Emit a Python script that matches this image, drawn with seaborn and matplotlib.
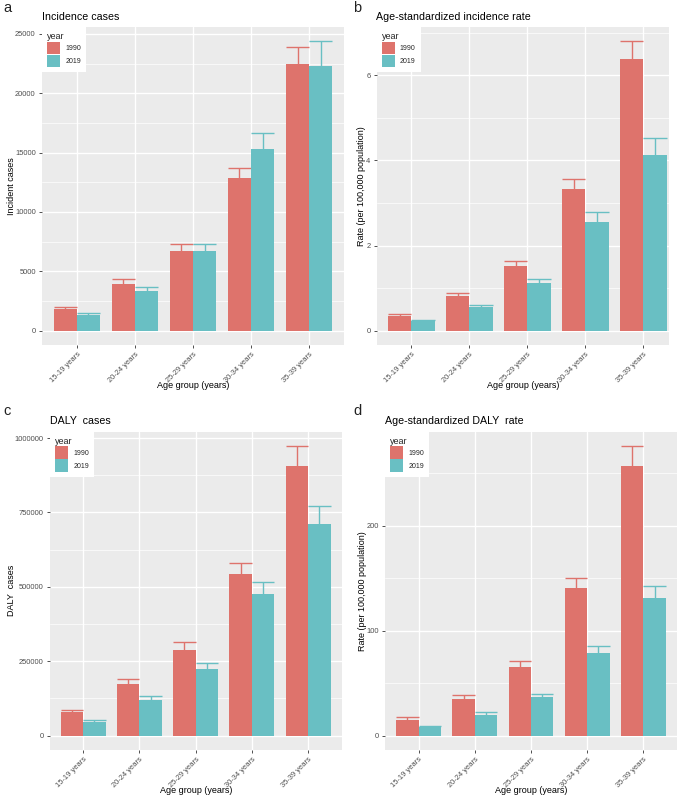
import numpy as np
import pandas as pd
import matplotlib
matplotlib.use("Agg")
import matplotlib.pyplot as plt
import seaborn as sns
from matplotlib.patches import Patch
from matplotlib.ticker import MultipleLocator, FixedLocator

ages = ["15-19 years", "20-24 years", "25-29 years", "30-34 years", "35-39 years"]
years = ["1990", "2019"]

inc_1990 = [1855, 3930, 6745, 12815, 22425]
inc_1990_up = [2020, 4320, 7275, 13660, 23910]
inc_2019 = [1315, 3310, 6710, 15285, 22280]
inc_2019_up = [1480, 3680, 7335, 16690, 24365]

asir_1990 = [0.35, 0.815, 1.53, 3.325, 6.376]
asir_1990_up = [0.40, 0.885, 1.647, 3.553, 6.80]
asir_2019 = [0.235, 0.55, 1.11, 2.55, 4.13]
asir_2019_up = [0.25, 0.61, 1.215, 2.78, 4.525]

daly_1990 = [78500, 171700, 288200, 542000, 907700]
daly_1990_up = [87500, 188500, 313100, 579100, 973000]
daly_2019 = [45800, 118900, 223200, 474700, 710400]
daly_2019_up = [53900, 131300, 243400, 515200, 771000]

asdr_1990 = [14.6, 34.7, 64.9, 140.4, 257.5]
asdr_1990_up = [17.2, 38.2, 70.7, 150.2, 276.0]
asdr_2019 = [8.6, 19.4, 36.6, 78.6, 131.1]
asdr_2019_up = [9.2, 22.0, 39.7, 85.6, 142.9]

COLORS = ["#DE736C", "#69BFC3"]

sns.set_theme(style="white")
plt.rcParams["font.family"] = ["Liberation Sans", "DejaVu Sans"]

W, H = 679, 797
fig = plt.figure(figsize=(W / 100, H / 100), dpi=100)


def fx(x):
    return x / W


def fy(y):
    return 1 - y / H


def panel(rect, xlim, letter, letter_xy, title, title_xy, ylabel, ylabel_x,
          xlabel_y, v90, u90, v19, u19, ystep, yticks):
    l, t, r, b = rect
    ax = fig.add_axes([fx(l), fy(b), (r - l) / W, (b - t) / H])
    df = pd.DataFrame({
        "age": ages * 2,
        "year": [years[0]] * len(ages) + [years[1]] * len(ages),
        "value": list(v90) + list(v19),
    })
    ups = {("1990", i): u for i, u in enumerate(u90)}
    ups.update({("2019", i): u for i, u in enumerate(u19)})
    ax.set_facecolor("#EBEBEB")
    sns.barplot(data=df, x="age", y="value", hue="year", order=ages,
                hue_order=years, palette=COLORS, width=0.8, errorbar=None,
                saturation=1, linewidth=0, legend=False, ax=ax, zorder=3)
    for p in ax.patches:
        cx = p.get_x() + p.get_width() / 2
        i = int(round(cx))
        yr = "1990" if cx < i else "2019"
        up = ups[(yr, i)]
        col = p.get_facecolor()
        ax.vlines(cx, p.get_height(), up, color=col, lw=1.0, zorder=2)
        ax.hlines(up, p.get_x(), p.get_x() + p.get_width(), color=col,
                  lw=1.0, zorder=2)
    M = max(max(u90), max(u19))
    ax.set_ylim(-0.05 * M, 1.05 * M)
    ax.set_xlim(*xlim)
    ax.yaxis.set_major_locator(FixedLocator(yticks))
    ax.yaxis.set_minor_locator(MultipleLocator(ystep / 2))
    ax.grid(True, which="major", axis="both", color="white", lw=1.0, zorder=0)
    ax.grid(True, which="minor", axis="y", color="white", lw=0.5, zorder=0)
    ax.set_axisbelow(True)
    for s in ax.spines.values():
        s.set_visible(False)
    ax.tick_params(axis="both", which="major", length=2.5, width=0.6,
                   color="#333333", labelcolor="#4D4D4D", labelsize=5.4,
                   pad=2, bottom=True, left=True)
    ax.tick_params(axis="y", which="minor", length=0)
    ax.set_yticklabels([str(v) for v in yticks])
    ax.set_xticks(range(len(ages)))
    ax.set_xticklabels(ages, rotation=45, ha="right", va="top",
                       rotation_mode="anchor")
    ax.set_xlabel("")
    ax.set_ylabel("")
    handles = [Patch(facecolor=c, edgecolor="none") for c in COLORS]
    leg = ax.legend(handles, years, title="year", loc="upper left",
                    bbox_to_anchor=(0, 1), borderaxespad=0, frameon=True,
                    facecolor="white", edgecolor="none", fancybox=False,
                    framealpha=1, fontsize=5.0, title_fontsize=6.5,
                    handlelength=1.9, handleheight=2.4, labelspacing=0.1,
                    handletextpad=0.75, borderpad=0.7, alignment="left")
    leg.set_zorder(10)
    fig.text(fx(letter_xy[0]), fy(letter_xy[1]), letter, fontsize=10.5,
             ha="left", va="center", color="#222222")
    fig.text(fx(title_xy[0]), fy(title_xy[1]), title, fontsize=7.7,
             ha="left", va="center", color="black")
    fig.text(fx(ylabel_x), fy((t + b) / 2), ylabel, fontsize=6.5,
             rotation=90, ha="center", va="center", color="black")
    fig.text(fx((l + r) / 2), fy(xlabel_y), "Age group (years)", fontsize=6.5,
             ha="center", va="center", color="black")
    return ax


panel((42, 27, 344, 345), (-0.6, 4.6), "a", (3, 8), "Incidence cases",
      (41.5, 16.5), "Incident cases", 11.5, 385.5,
      inc_1990, inc_1990_up, inc_2019, inc_2019_up, 5000,
      [0, 5000, 10000, 15000, 20000, 25000])

panel((376.7, 27, 669, 345), (-0.6, 4.44), "b", (353, 8),
      "Age-standardized incidence rate", (376.5, 16.5),
      "Rate (per 100,000 population)", 361.5, 385.5,
      asir_1990, asir_1990_up, asir_2019, asir_2019_up, 2, [0, 2, 4, 6])

panel((50, 431.7, 342, 750), (-0.59, 4.6), "c", (3, 411), "DALY  cases",
      (50, 421.5), "DALY  cases", 11.5, 790.5,
      daly_1990, daly_1990_up, daly_2019, daly_2019_up, 250000,
      [0, 250000, 500000, 750000, 1000000])

panel((385, 431.7, 677, 750), (-0.6, 4.6), "d", (353, 411),
      "Age-standardized DALY  rate", (385, 421.5),
      "Rate (per 100,000 population)", 362.5, 790.5,
      asdr_1990, asdr_1990_up, asdr_2019, asdr_2019_up, 100, [0, 100, 200])

fig.savefig("out.png", dpi=100, facecolor="white")
